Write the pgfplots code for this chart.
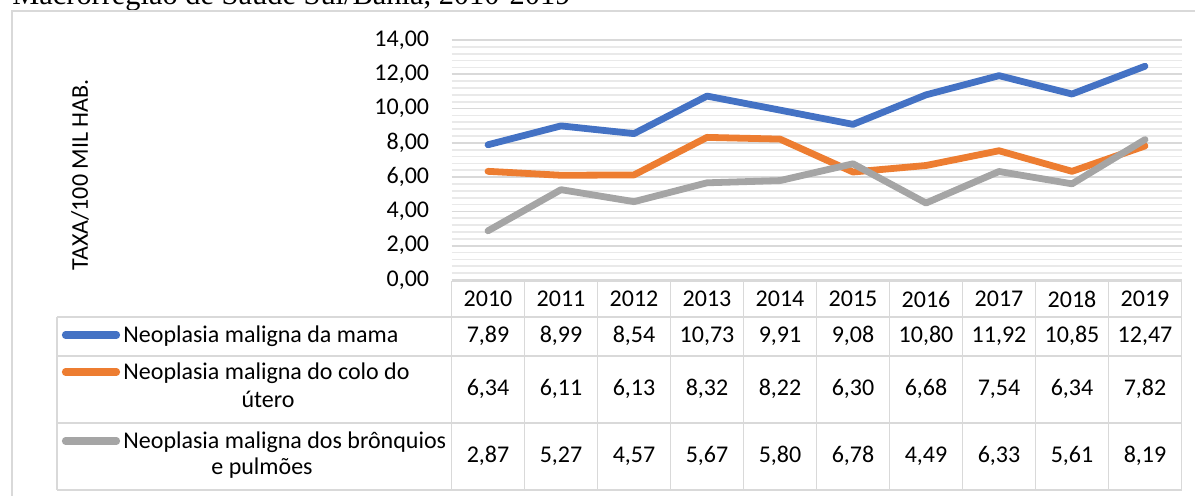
\documentclass[border=0pt]{standalone}
\usepackage{pgfplots}
\usepackage{pgfplotstable}
\pgfplotsset{compat=1.18}
\usepackage{fontspec}
\setmainfont{Carlito}
\newfontfamily\titlefont{Liberation Serif}
\definecolor{cblue}{HTML}{4472C4}
\definecolor{corange}{HTML}{ED7D31}
\definecolor{cgray}{HTML}{A5A5A5}
\definecolor{gridmaj}{HTML}{D9D9D9}
\definecolor{gridmin}{HTML}{E9E9E9}
\definecolor{tbl}{HTML}{D9D9D9}

\pgfplotstableread{
x mama colo bronq
0 7.89 6.34 2.87
1 8.99 6.11 5.27
2 8.54 6.13 4.57
3 10.73 8.32 5.67
4 9.91 8.22 5.80
5 9.08 6.30 6.78
6 10.80 6.68 4.49
7 11.92 7.54 6.33
8 10.85 6.34 5.61
9 12.47 7.82 8.19
}\data

\begin{document}
\fontsize{12}{14}\selectfont
\begin{tikzpicture}
\begin{scope}[x=0.5pt,y=-0.5pt]
\path[use as bounding box] (0,0) rectangle (1195,495);
\node[anchor=base west, inner sep=0, font=\titlefont\fontsize{15.2}{18}\selectfont] at (12,4) {Macrorregião de Saúde Sul/Bahia, 2010-2019};
\draw[tbl, line width=0.9pt] (12,520) -- (12,11) -- (1220,11);
\node[rotate=90] at (80,175) {TAXA/100 MIL HAB.};
\end{scope}
\begin{axis}[at={(225.75pt,-140pt)}, anchor=south west, scale only axis,
  width=365pt, height=120pt, xmin=-0.5, xmax=9.5, ymin=0, ymax=14,
  ytick={0,2,...,14}, minor y tick num=4, xtick=\empty,
  ymajorgrids, yminorgrids,
  major grid style={gridmaj, line width=0.8pt},
  minor grid style={gridmin, line width=0.8pt},
  axis line style={draw=none}, major tick style={draw=none}, minor tick style={draw=none},
  yticklabel style={/pgf/number format/fixed, /pgf/number format/fixed zerofill,
    /pgf/number format/precision=2, /pgf/number format/use comma,
    /pgf/number format/assume math mode=true, xshift=-7pt},
  clip=false]
\addplot[cblue, line width=3.4pt, line join=round, line cap=round] table[x=x,y=mama]{\data};
\addplot[corange, line width=3.4pt, line join=round, line cap=round] table[x=x,y=colo]{\data};
\addplot[cgray, line width=3.4pt, line join=round, line cap=round] table[x=x,y=bronq]{\data};
\end{axis}
\begin{scope}[x=0.5pt,y=-0.5pt]
\begin{scope}[tbl, line width=0.9pt]
\foreach \yy in {317,356,423,490} \draw (57,\yy) -- (1181.5,\yy);
\draw (451.5,281) -- (1181.5,281);
\draw (57,317) -- (57,490);
\foreach \k in {0,...,10} \draw (451.5+73*\k,281) -- (451.5+73*\k,490);
\end{scope}
\foreach \yr [count=\i from 0] in {2010,2011,2012,2013,2014,2015,2016,2017,2018,2019}
  \node at (488+73*\i,299) {\yr};
\foreach \v [count=\i from 0] in {{7,89},{8,99},{8,54},{10,73},{9,91},{9,08},{10,80},{11,92},{10,85},{12,47}}
  \node at (488+73*\i,336) {\v};
\foreach \v [count=\i from 0] in {{6,34},{6,11},{6,13},{8,32},{8,22},{6,30},{6,68},{7,54},{6,34},{7,82}}
  \node at (488+73*\i,389) {\v};
\foreach \v [count=\i from 0] in {{2,87},{5,27},{4,57},{5,67},{5,80},{6,78},{4,49},{6,33},{5,61},{8,19}}
  \node at (488+73*\i,456) {\v};
% legend keys
\draw[cblue, line width=3.6pt, line cap=round] (65.5,335) -- (116.5,335);
\draw[corange, line width=3.6pt, line cap=round] (65.5,372) -- (116.5,372);
\draw[cgray, line width=3.6pt, line cap=round] (65.5,441) -- (116.5,441);
\node[anchor=west, inner sep=0] at (123,336) {Neoplasia maligna da mama};
\node[anchor=west, inner sep=0] at (123,373) {Neoplasia maligna do colo do};
\node[inner sep=0] at (268,399) {útero};
\node[anchor=west, inner sep=0] at (123,442) {Neoplasia maligna dos brônquios};
\node[inner sep=0] at (262,468) {e pulmões};
\end{scope}
\end{tikzpicture}
\end{document}
